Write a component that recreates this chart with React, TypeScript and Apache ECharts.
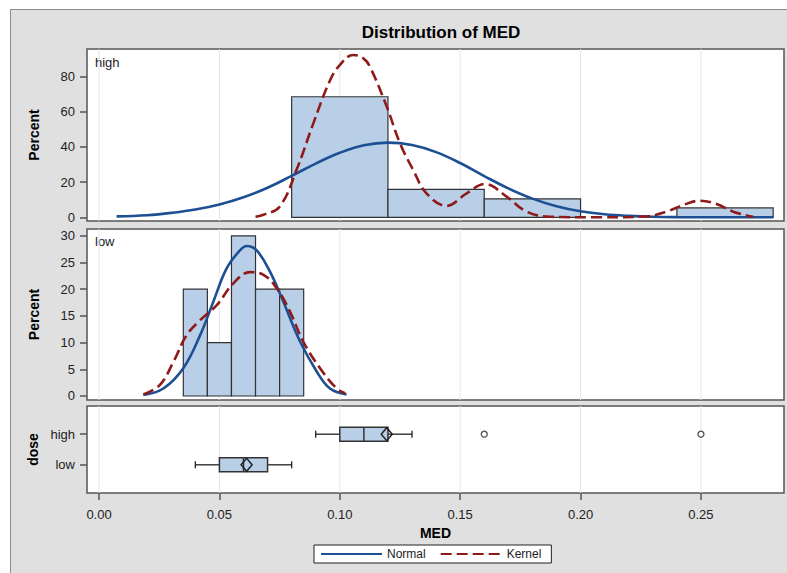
import React, { useEffect, useRef } from 'react';
import * as echarts from 'echarts';

// ---------- data ----------
const X_MIN = -0.005;
const X_MAX = 0.2845;
const X_TICKS = [0, 0.05, 0.1, 0.15, 0.2, 0.25];
const HIGH_Y_TICKS = [0, 20, 40, 60, 80];
const LOW_Y_TICKS = [0, 5, 10, 15, 20, 25, 30];
const DOSE_LEVELS = ['low', 'high'];

const highBinLeft = [0.08, 0.12, 0.16, 0.24];
const highBinWidth = 0.04;
const highPercent = [68.4, 15.8, 10.5, 5.3];

const lowBinLeft = [0.035, 0.045, 0.055, 0.065, 0.075];
const lowBinWidth = 0.01;
const lowPercent = [20, 10, 30, 20, 20];

const highNormal = [
  [0.0073, 0.5], [0.02, 1.2], [0.03, 2.5], [0.04, 4.4], [0.05, 7.3], [0.06, 11.4],
  [0.07, 16.8], [0.08, 23.5], [0.09, 30.5], [0.1, 36.6], [0.11, 40.9], [0.12, 42.4],
  [0.13, 41], [0.14, 37], [0.15, 30.8], [0.16, 23.4], [0.17, 16.4], [0.18, 10.6],
  [0.19, 6.3], [0.2, 3.4], [0.21, 1.7], [0.22, 0.8], [0.23, 0.3], [0.24, 0.1],
  [0.26, 0], [0.28, 0],
];
const highKernel = [
  [0.065, 0.3], [0.068, 1.3], [0.075, 6], [0.082, 26.8], [0.089, 53.3], [0.096, 77.9],
  [0.1, 86.4], [0.1056, 92.1], [0.1098, 90.2], [0.1125, 85.5], [0.1195, 62.8],
  [0.125, 42], [0.1305, 26.8], [0.136, 13.6], [0.1444, 6.5], [0.1527, 13.6],
  [0.1603, 18.9], [0.1693, 11.7], [0.1776, 3.2], [0.1873, 0.3], [0.208, 0],
  [0.2274, 0.5], [0.2357, 3.2], [0.2427, 7], [0.2496, 9.4], [0.2565, 7.5],
  [0.2634, 3.2], [0.2717, 0.3],
];
const lowNormal = [
  [0.0184, 0.2], [0.0267, 1.4], [0.035, 5.2], [0.042, 11.4], [0.0475, 17.7],
  [0.053, 23.9], [0.0586, 27.3], [0.0613, 28.1], [0.0654, 27.3], [0.071, 23.3],
  [0.0765, 17.7], [0.0835, 10.2], [0.0904, 4.6], [0.0959, 1.4], [0.1028, 0.3],
];
const lowKernel = [
  [0.0184, 0.3], [0.0253, 2.1], [0.0309, 6.4], [0.0364, 11.4], [0.042, 14.2],
  [0.0489, 17], [0.0558, 21.1], [0.0627, 23.2], [0.0683, 22.7], [0.0738, 20.2],
  [0.0793, 15.8], [0.0848, 10.2], [0.0918, 5.2], [0.0987, 1.4], [0.1022, 0.5],
];

// [dose index, whisker low, Q1, median, Q3, whisker high, mean]
const boxLow = [0, 0.04, 0.05, 0.06, 0.07, 0.08, 0.0613];
const boxHigh = [1, 0.09, 0.1, 0.11, 0.12, 0.13, 0.1195];
const highOutliers = [0.16, 0.25];

// ---------- style ----------
const FONT = '"Liberation Sans", Arial, Helvetica, sans-serif';
const BAR_FILL = '#b9cfe8';
const BAR_STROKE = '#333333';
const BLUE = '#1c4f94';
const RED = '#8e1a1a';
const BORDER = '#555555';
const GRIDLINE = '#e6e6e6';

const grids = [
  { left: 87, top: 49, width: 697, height: 172 },
  { left: 87, top: 229, width: 697, height: 171 },
  { left: 87, top: 406, width: 697, height: 87 },
].map((g) => ({
  ...g,
  show: true,
  backgroundColor: '#ffffff',
  borderColor: BORDER,
  borderWidth: 1.5,
}));

const xAxisBase = (i: number) => ({
  gridIndex: i,
  type: 'value',
  min: X_MIN,
  max: X_MAX,
  axisLine: { show: false, onZero: false },
  axisTick: { show: false },
  axisLabel: { show: false },
  splitLine: { show: false },
});

const yLabelStyle = { fontFamily: FONT, fontSize: 13, color: '#222' };
const nameStyle = { fontFamily: FONT, fontSize: 14, fontWeight: 'bold', color: '#000' };
const tickStyle = (vals: number[]) => ({
  show: true,
  customValues: vals,
  length: 7,
  lineStyle: { color: BORDER, width: 1.5 },
});

const gridLineSeries = (i: number) => ({
  type: 'custom',
  xAxisIndex: i,
  yAxisIndex: i,
  silent: true,
  z: 1,
  data: X_TICKS.map((v) => [v, 0]),
  renderItem: (params: any, api: any) => {
    const cs = params.coordSys;
    const p = api.coord([api.value(0), 0]);
    return {
      type: 'line',
      shape: { x1: p[0], y1: cs.y, x2: p[0], y2: cs.y + cs.height },
      style: { stroke: GRIDLINE, lineWidth: 1 },
    };
  },
});

const histSeries = (i: number, lefts: number[], width: number, pcts: number[]) => ({
  type: 'custom',
  xAxisIndex: i,
  yAxisIndex: i,
  silent: true,
  z: 2,
  data: lefts.map((l, k) => [l, l + width, pcts[k]]),
  encode: { x: [0, 1], y: 2 },
  renderItem: (_params: any, api: any) => {
    const p0 = api.coord([api.value(0), 0]);
    const p1 = api.coord([api.value(1), api.value(2)]);
    return {
      type: 'rect',
      shape: { x: p0[0], y: p1[1], width: p1[0] - p0[0], height: p0[1] - p1[1] },
      style: { fill: BAR_FILL, stroke: BAR_STROKE, lineWidth: 1.2 },
    };
  },
});

const curveSeries = (name: string, i: number, data: number[][], color: string, dashed: boolean) => ({
  name,
  type: 'line',
  xAxisIndex: i,
  yAxisIndex: i,
  data,
  smooth: 0.4,
  symbol: 'none',
  showSymbol: false,
  silent: true,
  z: 3,
  itemStyle: { color },
  lineStyle: { color, width: 2.6, type: dashed ? [11, 5] : 'solid' },
});

const boxSeries = {
  type: 'custom',
  xAxisIndex: 2,
  yAxisIndex: 2,
  silent: true,
  z: 3,
  data: [boxLow, boxHigh],
  encode: { x: [1, 2, 3, 4, 5, 6], y: 0 },
  renderItem: (_params: any, api: any) => {
    const yv = api.value(0);
    const xs = [1, 2, 3, 4, 5, 6].map((k) => api.coord([api.value(k), yv]));
    const cy = xs[0][1];
    const [lo, q1, med, q3, hi, mean] = xs.map((p: number[]) => p[0]);
    const h = 7;
    const cap = 3.5;
    const dw = 5.5;
    const dh = 6.5;
    const ln = { stroke: '#222', lineWidth: 1.3 };
    return {
      type: 'group',
      children: [
        { type: 'line', shape: { x1: lo, y1: cy, x2: q1, y2: cy }, style: ln },
        { type: 'line', shape: { x1: q3, y1: cy, x2: hi, y2: cy }, style: ln },
        { type: 'line', shape: { x1: lo, y1: cy - cap, x2: lo, y2: cy + cap }, style: ln },
        { type: 'line', shape: { x1: hi, y1: cy - cap, x2: hi, y2: cy + cap }, style: ln },
        {
          type: 'rect',
          shape: { x: q1, y: cy - h, width: q3 - q1, height: 2 * h },
          style: { fill: BAR_FILL, stroke: '#333', lineWidth: 1.5 },
        },
        { type: 'line', shape: { x1: med, y1: cy - h, x2: med, y2: cy + h }, style: { stroke: '#333', lineWidth: 1.5 } },
        {
          type: 'polygon',
          shape: { points: [[mean - dw, cy], [mean, cy - dh], [mean + dw, cy], [mean, cy + dh]] },
          style: { fill: 'rgba(0,0,0,0)', stroke: '#222', lineWidth: 1.5 },
        },
      ],
    };
  },
};

const option: any = {
  animation: false,
  backgroundColor: '#e0e0e0',
  textStyle: { fontFamily: FONT },
  title: {
    text: 'Distribution of MED',
    left: 436,
    top: 19,
    textAlign: 'center',
    textStyle: { fontFamily: FONT, fontSize: 17, fontWeight: 'bold', color: '#000' },
  },
  legend: {
    data: ['Normal', 'Kernel'],
    left: 314,
    top: 545,
    itemWidth: 61,
    itemHeight: 14,
    itemGap: 14,
    padding: [3, 10, 3, 6],
    borderColor: '#222',
    borderWidth: 1,
    backgroundColor: '#ffffff',
    selectedMode: false,
    itemStyle: { opacity: 0, borderWidth: 0 },
    textStyle: { fontFamily: FONT, fontSize: 12, color: '#222' },
  },
  graphic: [
    { type: 'rect', shape: { x: 0, y: 0, width: 787, height: 9 }, style: { fill: '#ffffff' }, silent: true },
    { type: 'rect', shape: { x: 0, y: 0, width: 10, height: 573 }, style: { fill: '#ffffff' }, silent: true },
    {
      type: 'polyline',
      shape: { points: [[10.5, 573], [10.5, 9.5], [787, 9.5]] },
      style: { stroke: '#8c8c8c', lineWidth: 1, fill: 'none' },
      silent: true,
    },
    { type: 'text', x: 95, y: 62, style: { text: 'high', fontFamily: FONT, fontSize: 13, fill: '#222', verticalAlign: 'middle' }, silent: true },
    { type: 'text', x: 95, y: 241, style: { text: 'low', fontFamily: FONT, fontSize: 13, fill: '#222', verticalAlign: 'middle' }, silent: true },
  ],
  grid: grids,
  xAxis: [
    xAxisBase(0),
    xAxisBase(1),
    {
      ...xAxisBase(2),
      name: 'MED',
      nameLocation: 'middle',
      nameGap: 33,
      nameTextStyle: nameStyle,
      axisTick: tickStyle(X_TICKS),
      axisLabel: {
        show: true,
        customValues: X_TICKS,
        margin: 15,
        formatter: (v: number) => v.toFixed(2),
        ...yLabelStyle,
      },
    },
  ],
  yAxis: [
    {
      gridIndex: 0,
      type: 'value',
      min: -2.1,
      max: 95.5,
      name: 'Percent',
      nameLocation: 'middle',
      nameGap: 46,
      nameTextStyle: nameStyle,
      axisLine: { show: false, onZero: false },
      splitLine: { show: false },
      axisTick: tickStyle(HIGH_Y_TICKS),
      axisLabel: { customValues: HIGH_Y_TICKS, margin: 12, ...yLabelStyle },
    },
    {
      gridIndex: 1,
      type: 'value',
      min: -0.75,
      max: 31.27,
      name: 'Percent',
      nameLocation: 'middle',
      nameGap: 46,
      nameTextStyle: nameStyle,
      axisLine: { show: false, onZero: false },
      splitLine: { show: false },
      axisTick: tickStyle(LOW_Y_TICKS),
      axisLabel: { customValues: LOW_Y_TICKS, margin: 12, ...yLabelStyle },
    },
    {
      gridIndex: 2,
      type: 'value',
      min: -0.92,
      max: 1.92,
      name: 'dose',
      nameLocation: 'middle',
      nameGap: 46,
      nameTextStyle: nameStyle,
      axisLine: { show: false, onZero: false },
      splitLine: { show: false },
      axisTick: tickStyle([0, 1]),
      axisLabel: {
        customValues: [0, 1],
        margin: 12,
        formatter: (v: number) => DOSE_LEVELS[Math.round(v)] ?? '',
        ...yLabelStyle,
      },
    },
  ],
  series: [
    gridLineSeries(0),
    gridLineSeries(1),
    gridLineSeries(2),
    histSeries(0, highBinLeft, highBinWidth, highPercent),
    histSeries(1, lowBinLeft, lowBinWidth, lowPercent),
    curveSeries('Normal', 0, highNormal, BLUE, false),
    curveSeries('Kernel', 0, highKernel, RED, true),
    curveSeries('Normal', 1, lowNormal, BLUE, false),
    curveSeries('Kernel', 1, lowKernel, RED, true),
    boxSeries,
    {
      type: 'scatter',
      xAxisIndex: 2,
      yAxisIndex: 2,
      silent: true,
      z: 4,
      symbol: 'circle',
      symbolSize: 6,
      itemStyle: { color: '#ffffff', borderColor: '#222', borderWidth: 1.3 },
      data: highOutliers.map((v) => [v, 1]),
    },
  ],
};

export default function App() {
  const ref = useRef<HTMLDivElement>(null);
  useEffect(() => {
    if (!ref.current) return;
    const chart = echarts.init(ref.current, null, { renderer: 'svg' });
    chart.setOption(option);
    return () => chart.dispose();
  }, []);
  return (
    <div
      ref={ref}
      style={{ position: 'fixed', left: 0, top: 0, width: 787, height: 573 }}
    />
  );
}
